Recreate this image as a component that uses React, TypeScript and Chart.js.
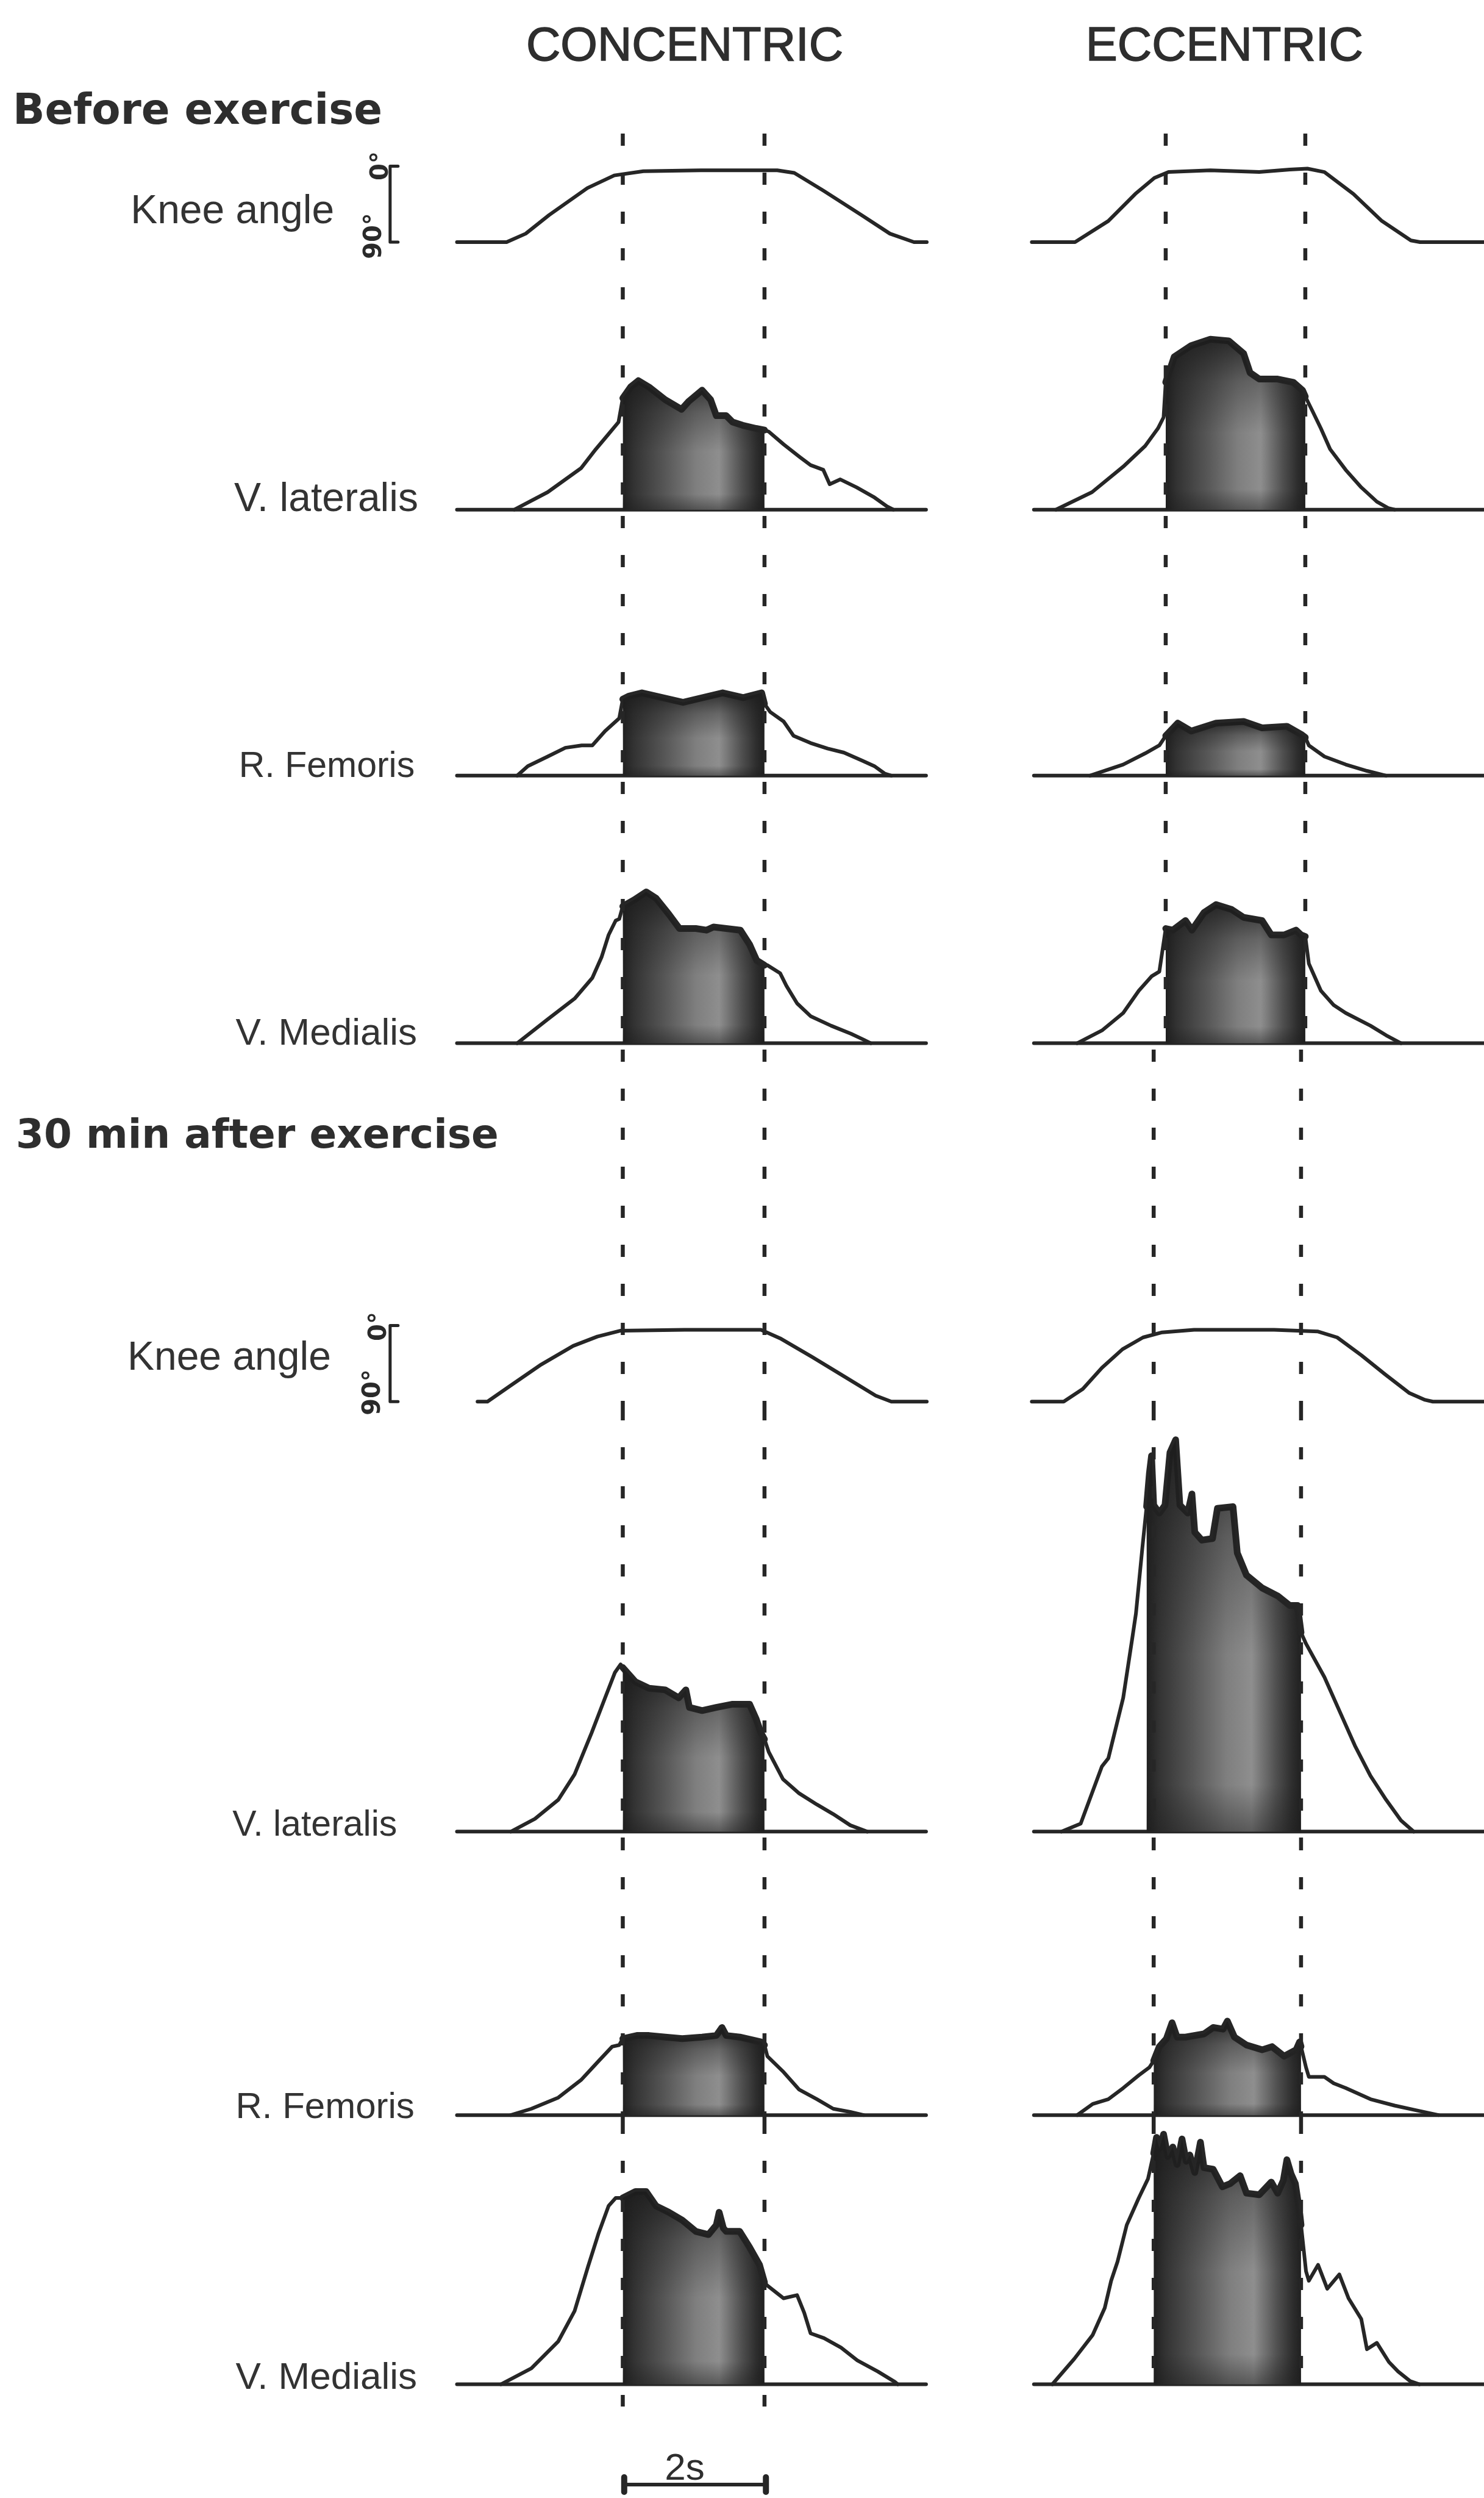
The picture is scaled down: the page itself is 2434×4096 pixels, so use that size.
import React, { useEffect, useRef } from 'react';
import { Chart, registerables } from 'chart.js';

Chart.register(...registerables);

type Pt = [number, number];

// ===================== DATA =====================
// Knee angle (degrees; 90 = start position) against time (s)
const KNEE_CONC_BEFORE: Pt[] = [[0, 90], [0.7, 90], [0.97, 80], [1.3, 58], [1.84, 26], [2.22, 11], [2.63, 6], [3.44, 5], [4.52, 5], [4.76, 8], [5.17, 29], [5.71, 58], [6.11, 80], [6.45, 90], [6.63, 90]];
const KNEE_ECC_BEFORE: Pt[] = [[0, 90], [0.61, 90], [1.08, 65], [1.46, 33], [1.73, 14], [1.93, 7], [2.52, 5], [3.21, 7], [3.64, 4], [3.89, 3], [4.13, 7], [4.54, 33], [4.94, 65], [5.35, 88], [5.48, 90], [6.4, 90]];
const KNEE_CONC_AFTER: Pt[] = [[0.29, 90], [0.43, 90], [0.74, 72], [1.19, 46], [1.64, 24], [1.98, 13], [2.31, 6], [3.21, 5], [4.29, 5], [4.56, 15], [5.01, 37], [5.46, 60], [5.91, 83], [6.13, 90], [6.63, 90]];
const KNEE_ECC_AFTER: Pt[] = [[0, 90], [0.45, 90], [0.72, 75], [0.99, 50], [1.28, 28], [1.57, 14], [1.84, 8], [2.29, 5], [3.42, 5], [4.04, 7], [4.31, 14], [4.65, 35], [4.99, 58], [5.33, 80], [5.55, 88], [5.66, 90], [6.4, 90]];

// Rectified EMG (arbitrary units) against time (s)
const VLAT_CONC_BEFORE: Pt[] = [[0.81, 0], [1.28, 11], [1.75, 26], [1.96, 38], [2.13, 47], [2.28, 55], [2.34, 70], [2.45, 77], [2.56, 81], [2.71, 77], [2.94, 69], [3.17, 63], [3.27, 68], [3.46, 75], [3.58, 69], [3.66, 59], [3.8, 59], [3.89, 55], [4.03, 53], [4.22, 51], [4.34, 50], [4.4, 49], [4.61, 41], [4.84, 33], [4.99, 28], [5.17, 25], [5.26, 16], [5.41, 19], [5.64, 14], [5.88, 8], [6.07, 2], [6.16, 0]];
const VLAT_ECC_BEFORE: Pt[] = [[0.34, 0], [0.85, 11], [1.29, 27], [1.6, 40], [1.78, 51], [1.86, 58], [1.89, 80], [2.01, 96], [2.25, 103], [2.52, 107], [2.78, 106], [2.99, 98], [3.08, 86], [3.21, 82], [3.47, 82], [3.69, 80], [3.82, 75], [3.86, 71], [3.96, 62], [4.08, 51], [4.21, 38], [4.43, 25], [4.65, 14], [4.87, 5], [5.03, 1], [5.12, 0]];
const RFEM_CONC_BEFORE: Pt[] = [[0.85, 0], [1.0, 6], [1.28, 12], [1.53, 17.5], [1.76, 19], [1.91, 19], [2.09, 28], [2.29, 36], [2.34, 48], [2.43, 50], [2.61, 52], [2.9, 49], [3.19, 46], [3.47, 49], [3.75, 52], [4.04, 49], [4.3, 52], [4.34, 45], [4.42, 40], [4.61, 34], [4.75, 25], [4.99, 20.5], [5.23, 17], [5.46, 14.5], [5.71, 9.6], [5.89, 6], [6.04, 1.2], [6.13, 0]];
const RFEM_ECC_BEFORE: Pt[] = [[0.82, 0], [1.29, 7], [1.6, 14], [1.8, 19], [1.89, 25], [2.06, 33], [2.25, 28], [2.6, 33], [2.99, 34], [3.25, 30], [3.6, 31], [3.8, 26], [3.86, 24], [3.91, 19], [4.13, 12], [4.43, 7], [4.73, 3], [5.0, 0]];
const VMED_CONC_BEFORE: Pt[] = [[0.85, 0], [1.28, 15], [1.66, 28], [1.91, 41], [2.04, 54], [2.14, 68], [2.24, 77], [2.29, 78], [2.34, 86], [2.5, 90], [2.67, 95], [2.81, 91], [2.99, 81], [3.14, 72], [3.37, 72], [3.52, 71], [3.62, 73], [4.0, 71], [4.13, 62], [4.23, 52], [4.34, 49], [4.38, 49], [4.56, 44], [4.65, 36], [4.8, 25], [4.99, 17], [5.28, 11], [5.56, 6], [5.75, 2], [5.84, 0]];
const VMED_ECC_BEFORE: Pt[] = [[0.64, 0], [0.99, 8], [1.29, 19], [1.51, 33], [1.69, 42], [1.8, 45], [1.89, 72], [1.99, 71], [2.17, 77], [2.26, 71], [2.43, 82], [2.6, 87], [2.82, 84], [2.99, 79], [3.25, 77], [3.38, 68], [3.56, 68], [3.73, 71], [3.8, 68], [3.86, 67], [3.91, 50], [4.08, 33], [4.26, 24], [4.43, 19], [4.78, 11], [5.0, 5], [5.21, 0]];
const VLAT_CONC_AFTER: Pt[] = [[0.76, 0], [1.1, 8], [1.43, 20], [1.66, 36], [1.9, 62], [2.09, 84], [2.23, 100], [2.31, 105], [2.34, 103], [2.52, 94], [2.71, 90], [2.94, 89], [3.13, 84], [3.23, 89], [3.28, 78], [3.46, 76], [3.66, 78], [3.89, 80], [4.13, 80], [4.22, 71], [4.29, 62], [4.34, 58], [4.4, 50], [4.6, 33], [4.83, 24], [5.08, 17], [5.31, 11], [5.55, 4], [5.79, 0]];
const VLAT_ECC_AFTER: Pt[] = [[0.42, 0], [0.69, 5], [0.99, 41], [1.08, 46], [1.29, 84], [1.42, 122], [1.47, 137], [1.56, 178], [1.62, 204], [1.66, 225], [1.69, 236], [1.72, 205], [1.8, 200], [1.88, 205], [1.95, 238], [2.03, 246], [2.09, 205], [2.2, 200], [2.26, 212], [2.3, 188], [2.4, 183], [2.55, 184], [2.62, 203], [2.84, 204], [2.9, 175], [3.03, 161], [3.25, 153], [3.47, 148], [3.64, 142], [3.75, 142], [3.8, 125], [3.87, 118], [4.13, 97], [4.34, 76], [4.56, 54], [4.78, 35], [5.0, 20], [5.21, 7], [5.39, 0]];
const RFEM_CONC_AFTER: Pt[] = [[0.76, 0], [1.05, 4], [1.43, 11], [1.75, 22], [2.0, 34], [2.19, 43], [2.29, 44], [2.34, 48], [2.54, 50], [2.71, 50], [2.94, 49], [3.18, 48], [3.46, 49], [3.66, 50], [3.74, 55], [3.8, 50], [3.99, 49], [4.29, 46], [4.34, 44], [4.38, 37], [4.61, 27], [4.83, 16], [5.08, 10], [5.31, 4], [5.55, 2], [5.74, 0]];
const RFEM_ECC_AFTER: Pt[] = [[0.64, 0], [0.86, 7], [1.08, 10], [1.29, 17], [1.51, 25], [1.66, 30], [1.72, 34], [1.8, 43], [1.9, 48], [1.98, 58], [2.05, 49], [2.17, 49], [2.43, 51], [2.56, 55], [2.7, 54], [2.76, 59], [2.86, 49], [3.03, 44], [3.25, 41], [3.39, 43], [3.56, 37], [3.73, 41], [3.78, 46], [3.8, 43], [3.87, 30], [3.91, 24], [4.13, 24], [4.26, 20], [4.43, 17], [4.78, 10], [5.12, 6], [5.43, 3], [5.74, 0]];
const VMED_CONC_AFTER: Pt[] = [[0.62, 0], [1.05, 10], [1.43, 27], [1.66, 46], [1.85, 74], [2.0, 95], [2.14, 112], [2.24, 117], [2.34, 117], [2.52, 121], [2.67, 121], [2.81, 112], [2.99, 108], [3.18, 103], [3.37, 96], [3.55, 94], [3.66, 100], [3.7, 108], [3.76, 98], [3.8, 96], [3.99, 96], [4.13, 86], [4.27, 75], [4.34, 64], [4.38, 62], [4.61, 54], [4.8, 56], [4.9, 45], [4.99, 32], [5.18, 29], [5.42, 23], [5.65, 15], [5.94, 8], [6.18, 1.5], [6.22, 0]];
const VMED_ECC_AFTER: Pt[] = [[0.29, 0], [0.6, 16], [0.86, 31], [1.03, 48], [1.12, 65], [1.21, 77], [1.34, 100], [1.51, 117], [1.64, 129], [1.72, 145], [1.76, 155], [1.8, 148], [1.86, 157], [1.92, 143], [1.99, 149], [2.05, 138], [2.12, 154], [2.18, 140], [2.23, 144], [2.3, 133], [2.38, 152], [2.43, 136], [2.56, 135], [2.69, 124], [2.8, 126], [2.94, 131], [3.03, 120], [3.21, 119], [3.38, 127], [3.47, 120], [3.55, 128], [3.6, 141], [3.66, 132], [3.72, 126], [3.78, 108], [3.8, 100], [3.87, 71], [3.91, 65], [4.04, 75], [4.17, 60], [4.34, 69], [4.47, 54], [4.65, 41], [4.73, 22], [4.87, 26], [5.04, 14], [5.17, 8], [5.34, 2], [5.47, 0]];

// Event markers (s): start / end of the loaded phase
const CONC_MARKS: number[] = [2.34, 4.34];
const ECC_MARKS_BEFORE: number[] = [1.89, 3.86];
const ECC_MARKS_AFTER: number[] = [1.72, 3.8];

// Shaded (loaded) interval of each EMG trace (s)
const CONC_BLOCK: Pt = [2.34, 4.34];
const ECC_BLOCK_BEFORE: Pt = [1.89, 3.86];
const ECC_BLOCK_AFTER: Pt = [1.72, 3.8];
const VLAT_ECC_AFTER_BLOCK: Pt = [1.62, 3.8];

// Recording spans (s)
const CONC_SPAN: Pt = [0, 6.62];
const ECC_SPAN: Pt = [0.03, 6.4];

// Knee angle bracket (degrees) and time scale bar (s)
const KNEE_RANGE: Pt = [0, 90];
const SCALE_BAR_START = 2.36;
const SCALE_BAR_SECONDS = 2;

// Text
const COLUMN_TITLES = ['CONCENTRIC', 'ECCENTRIC'];
const SECTION_TITLES = ['Before exercise', '30 min after exercise'];
const ROW_LABELS = ['Knee angle', 'V. lateralis', 'R. Femoris', 'V. Medialis', 'Knee angle', 'V. lateralis', 'R. Femoris', 'V. Medialis'];
const DEG_LABELS = ['0°', '90°'];
const SCALE_BAR_LABEL = '2s';

// ===================== LAYOUT (reference units, scaled by S) =====================
const W = 2434;
const H = 4096;
const S = W / 932;
const ROW_BASE = [152, 320, 487, 655, 880, 1150, 1328, 1497];
const TOP0 = 84;
const GAP = 4;
const CONC_LEFT = 236, CONC_RIGHT = 600, CONC_ORIGIN = 287;
const ECC_LEFT = 640, ECC_RIGHT = 932, ECC_ORIGIN = 648;
const PPS = 44.5; // reference px per second
const KNEE_PX_PER_DEG = 0.53;
const BRACKET_X = 245;
const SCALE_BAR_LEVEL = -63;
const SCALE_BAR_BOTTOM = 1575;

const INK = '#262626';
const LINE_W = 6;
const DASH_W = 6.5;
const DASH_PATTERN = [20, 44];

const SANS = '"Liberation Sans", Arial, sans-serif';
const BOLD = '"DejaVu Sans", "Liberation Sans", sans-serif';

type Kind = 'knee' | 'emg';
interface PanelSpec {
  key: string;
  col: 'conc' | 'ecc';
  row: number;
  kind: Kind;
  trace: Pt[];
  block?: Pt;
  marks: number[];
  span: Pt;
  bracket?: boolean;
  scaleBar?: boolean;
}

const PANELS: PanelSpec[] = [
  { key: 'c0', col: 'conc', row: 0, kind: 'knee', trace: KNEE_CONC_BEFORE, marks: CONC_MARKS, span: CONC_SPAN, bracket: true },
  { key: 'e0', col: 'ecc', row: 0, kind: 'knee', trace: KNEE_ECC_BEFORE, marks: ECC_MARKS_BEFORE, span: ECC_SPAN },
  { key: 'c1', col: 'conc', row: 1, kind: 'emg', trace: VLAT_CONC_BEFORE, block: CONC_BLOCK, marks: CONC_MARKS, span: CONC_SPAN },
  { key: 'e1', col: 'ecc', row: 1, kind: 'emg', trace: VLAT_ECC_BEFORE, block: ECC_BLOCK_BEFORE, marks: ECC_MARKS_BEFORE, span: ECC_SPAN },
  { key: 'c2', col: 'conc', row: 2, kind: 'emg', trace: RFEM_CONC_BEFORE, block: CONC_BLOCK, marks: CONC_MARKS, span: CONC_SPAN },
  { key: 'e2', col: 'ecc', row: 2, kind: 'emg', trace: RFEM_ECC_BEFORE, block: ECC_BLOCK_BEFORE, marks: ECC_MARKS_BEFORE, span: ECC_SPAN },
  { key: 'c3', col: 'conc', row: 3, kind: 'emg', trace: VMED_CONC_BEFORE, block: CONC_BLOCK, marks: CONC_MARKS, span: CONC_SPAN },
  { key: 'e3', col: 'ecc', row: 3, kind: 'emg', trace: VMED_ECC_BEFORE, block: ECC_BLOCK_BEFORE, marks: ECC_MARKS_BEFORE, span: ECC_SPAN },
  { key: 'c4', col: 'conc', row: 4, kind: 'knee', trace: KNEE_CONC_AFTER, marks: CONC_MARKS, span: CONC_SPAN, bracket: true },
  { key: 'e4', col: 'ecc', row: 4, kind: 'knee', trace: KNEE_ECC_AFTER, marks: ECC_MARKS_AFTER, span: ECC_SPAN },
  { key: 'c5', col: 'conc', row: 5, kind: 'emg', trace: VLAT_CONC_AFTER, block: CONC_BLOCK, marks: CONC_MARKS, span: CONC_SPAN },
  { key: 'e5', col: 'ecc', row: 5, kind: 'emg', trace: VLAT_ECC_AFTER, block: VLAT_ECC_AFTER_BLOCK, marks: ECC_MARKS_AFTER, span: ECC_SPAN },
  { key: 'c6', col: 'conc', row: 6, kind: 'emg', trace: RFEM_CONC_AFTER, block: CONC_BLOCK, marks: CONC_MARKS, span: CONC_SPAN },
  { key: 'e6', col: 'ecc', row: 6, kind: 'emg', trace: RFEM_ECC_AFTER, block: ECC_BLOCK_AFTER, marks: ECC_MARKS_AFTER, span: ECC_SPAN },
  { key: 'c7', col: 'conc', row: 7, kind: 'emg', trace: VMED_CONC_AFTER, block: CONC_BLOCK, marks: CONC_MARKS, span: CONC_SPAN, scaleBar: true },
  { key: 'e7', col: 'ecc', row: 7, kind: 'emg', trace: VMED_ECC_AFTER, block: ECC_BLOCK_AFTER, marks: ECC_MARKS_AFTER, span: ECC_SPAN },
];

interface Geom { left: number; top: number; w: number; h: number; baselinePx: number; xMin: number; xMax: number; }

function geom(p: PanelSpec): Geom {
  const leftS = p.col === 'conc' ? CONC_LEFT : ECC_LEFT;
  const rightS = p.col === 'conc' ? CONC_RIGHT : ECC_RIGHT;
  const origin = p.col === 'conc' ? CONC_ORIGIN : ECC_ORIGIN;
  const topS = p.row === 0 ? TOP0 : ROW_BASE[p.row - 1] + GAP;
  const bottomS = p.scaleBar ? SCALE_BAR_BOTTOM : ROW_BASE[p.row] + GAP;
  const left = Math.round(leftS * S);
  const right = Math.min(W, Math.round(rightS * S));
  const top = Math.round(topS * S);
  const bottom = Math.round(bottomS * S);
  return {
    left, top, w: right - left, h: bottom - top,
    baselinePx: ROW_BASE[p.row] * S - top,
    xMin: (left / S - origin) / PPS,
    xMax: (right / S - origin) / PPS,
  };
}

function valueAt(tr: Pt[], t: number): number {
  for (let i = 0; i < tr.length - 1; i++) {
    const [t0, v0] = tr[i];
    const [t1, v1] = tr[i + 1];
    if (t >= t0 && t <= t1) return t1 === t0 ? v1 : v0 + ((v1 - v0) * (t - t0)) / (t1 - t0);
  }
  return 0;
}

function blockPoints(tr: Pt[], b: Pt) {
  const out: { x: number; y: number }[] = [{ x: b[0], y: valueAt(tr, b[0]) }];
  for (const [t, v] of tr) if (t > b[0] && t < b[1]) out.push({ x: t, y: v });
  out.push({ x: b[1], y: valueAt(tr, b[1]) });
  return out;
}

function decorPlugin(p: PanelSpec, g: Geom) {
  return {
    id: 'decor_' + p.key,
    afterDatasetsDraw(chart: any) {
      const ctx: CanvasRenderingContext2D = chart.ctx;
      const x = chart.scales.x;
      const y = chart.scales.y;
      ctx.save();
      // darker band along the top of the shaded block
      if (p.block) {
        const pts = blockPoints(p.trace, p.block);
        const y0 = y.getPixelForValue(0);
        let minY = y0;
        ctx.beginPath();
        ctx.moveTo(x.getPixelForValue(pts[0].x), y0);
        for (const q of pts) {
          const py = y.getPixelForValue(q.y);
          minY = Math.min(minY, py);
          ctx.lineTo(x.getPixelForValue(q.x), py);
        }
        ctx.lineTo(x.getPixelForValue(pts[pts.length - 1].x), y0);
        ctx.closePath();
        ctx.save();
        ctx.clip();
        const hgt = y0 - minY;
        const gr = ctx.createLinearGradient(0, minY, 0, minY + hgt * 0.55);
        gr.addColorStop(0, 'rgba(28,28,28,0.85)');
        gr.addColorStop(0.45, 'rgba(28,28,28,0.35)');
        gr.addColorStop(1, 'rgba(28,28,28,0)');
        ctx.fillStyle = gr;
        ctx.fillRect(0, minY - 2, g.w, hgt + 4);
        const gb = ctx.createLinearGradient(0, y0 - hgt * 0.12, 0, y0);
        gb.addColorStop(0, 'rgba(28,28,28,0)');
        gb.addColorStop(1, 'rgba(28,28,28,0.45)');
        ctx.fillStyle = gb;
        ctx.fillRect(0, y0 - hgt * 0.12, g.w, hgt * 0.12 + 2);
        ctx.restore();
      }
      ctx.strokeStyle = INK;
      ctx.lineWidth = DASH_W;
      ctx.setLineDash(DASH_PATTERN);
      const bottom = p.scaleBar ? g.baselinePx + 14 * S : g.h;
      for (const t of p.marks) {
        const px = x.getPixelForValue(t);
        ctx.beginPath();
        ctx.moveTo(px, 0);
        ctx.lineTo(px, bottom);
        ctx.stroke();
      }
      ctx.setLineDash([]);
      ctx.lineCap = 'round';
      ctx.lineJoin = 'round';
      if (p.bracket) {
        const bx = BRACKET_X * S - g.left;
        const y0 = y.getPixelForValue(KNEE_RANGE[0]);
        const y1 = y.getPixelForValue(KNEE_RANGE[1]);
        ctx.lineWidth = 5;
        ctx.beginPath();
        ctx.moveTo(bx + 13, y0);
        ctx.lineTo(bx, y0);
        ctx.lineTo(bx, y1);
        ctx.lineTo(bx + 13, y1);
        ctx.stroke();
      }
      if (p.scaleBar) {
        const x0 = x.getPixelForValue(SCALE_BAR_START);
        const x1 = x.getPixelForValue(SCALE_BAR_START + SCALE_BAR_SECONDS);
        const yb = y.getPixelForValue(SCALE_BAR_LEVEL);
        ctx.lineWidth = 6;
        ctx.beginPath();
        ctx.moveTo(x0, yb);
        ctx.lineTo(x1, yb);
        ctx.stroke();
        ctx.lineWidth = 10;
        for (const xx of [x0, x1]) {
          ctx.beginPath();
          ctx.moveTo(xx, yb - 12);
          ctx.lineTo(xx, yb + 12);
          ctx.stroke();
        }
      }
      ctx.restore();
    },
  };
}

function buildChart(canvas: HTMLCanvasElement, p: PanelSpec): Chart {
  const g = geom(p);
  const datasets: any[] = [];
  const toXY = (tr: Pt[]) => tr.map(([t, v]) => ({ x: t, y: v }));
  let yOpts: any;
  if (p.kind === 'knee') {
    const unit = KNEE_PX_PER_DEG * S;
    yOpts = { type: 'linear', display: false, reverse: true, min: 90 - g.baselinePx / unit, max: 90 + (g.h - g.baselinePx) / unit };
    datasets.push({ data: toXY(p.trace), borderColor: INK, borderWidth: LINE_W, fill: false, clip: false, order: 0 });
  } else {
    yOpts = { type: 'linear', display: false, min: -(g.h - g.baselinePx) / S, max: g.baselinePx / S };
    datasets.push({ data: toXY(p.trace), borderColor: INK, borderWidth: LINE_W, fill: false, clip: false, order: 0 });
    if (p.block) {
      const b = p.block;
      const c2d = canvas.getContext('2d') as CanvasRenderingContext2D;
      const px = (t: number) => ((t - g.xMin) / (g.xMax - g.xMin)) * g.w;
      const gr = c2d.createLinearGradient(px(b[0]), 0, px(b[1]), 0);
      gr.addColorStop(0, '#202020');
      gr.addColorStop(0.08, '#333333');
      gr.addColorStop(0.3, '#575757');
      gr.addColorStop(0.52, '#7f7f7f');
      gr.addColorStop(0.68, '#8e8e8e');
      gr.addColorStop(0.84, '#4f4f4f');
      gr.addColorStop(0.94, '#2e2e2e');
      gr.addColorStop(1, '#202020');
      datasets.push({
        data: blockPoints(p.trace, b),
        fill: 'origin',
        borderColor: '#262626',
        borderWidth: 11,
        clip: false,
        order: 1,
        backgroundColor: gr,
      });
    }
    datasets.push({ data: [{ x: p.span[0], y: 0 }, { x: p.span[1], y: 0 }], borderColor: INK, borderWidth: LINE_W, fill: false, clip: false, order: 2 });
  }
  return new Chart(canvas, {
    type: 'line',
    data: { datasets },
    options: {
      responsive: false,
      maintainAspectRatio: false,
      animation: false,
      devicePixelRatio: 1,
      events: [],
      layout: { padding: 0 },
      parsing: false,
      normalized: true,
      elements: { point: { radius: 0 }, line: { tension: 0, borderCapStyle: 'round', borderJoinStyle: 'round' } },
      plugins: { legend: { display: false }, tooltip: { enabled: false }, title: { display: false } },
      scales: {
        x: { type: 'linear', display: false, min: g.xMin, max: g.xMax },
        y: yOpts,
      },
    } as any,
    plugins: [decorPlugin(p, g)],
  });
}

function Txt(props: { text: string; x: number; base: number; size: number; family: string; weight?: number; align?: 'left' | 'center'; color?: string; stroke?: number }) {
  const { text, x, base, size, family, weight = 400, align = 'left', color = '#2e2e2e', stroke = 0 } = props;
  const top = base * S - 0.846 * size;
  const style: React.CSSProperties = {
    position: 'absolute', top, fontSize: size, lineHeight: `${size}px`, fontFamily: family, fontWeight: weight,
    color, whiteSpace: 'nowrap',
  };
  if (stroke) (style as any).WebkitTextStroke = `${stroke}px ${color}`;
  if (align === 'center') {
    style.left = x * S - 1000;
    style.width = 2000;
    style.textAlign = 'center';
  } else {
    style.left = x * S;
  }
  return <div style={style}>{text}</div>;
}

function Deg(props: { text: string; cx: number; cy: number }) {
  return (
    <div style={{
      position: 'absolute', left: props.cx * S, top: props.cy * S, fontSize: 40, lineHeight: '40px', fontFamily: BOLD,
      fontWeight: 700, color: '#2a2a2a', transform: 'translate(-50%, -50%) rotate(-90deg)', whiteSpace: 'nowrap',
    }}>{props.text}</div>
  );
}

const LABEL_X = [82, 147, 150, 148, 80, 146, 148, 148];
const LABEL_BASE = [140, 321, 488, 656, 860, 1153, 1330, 1500];
const LABEL_SIZE = [66, 66, 59, 62, 66, 59, 60, 62];

export default function App() {
  const refs = useRef<(HTMLCanvasElement | null)[]>([]);
  useEffect(() => {
    const charts: Chart[] = [];
    PANELS.forEach((p, i) => {
      const cv = refs.current[i];
      if (!cv) return;
      try {
        charts.push(buildChart(cv, p));
      } catch (e) {
        console.error(e);
      }
    });
    return () => charts.forEach((c) => c.destroy());
  }, []);
  return (
    <div style={{ position: 'absolute', left: 0, top: 0, width: W, height: H, background: '#fff', overflow: 'hidden' }}>
      {PANELS.map((p, i) => {
        const g = geom(p);
        return (
          <canvas
            key={p.key}
            ref={(el) => { refs.current[i] = el; }}
            width={g.w}
            height={g.h}
            style={{ position: 'absolute', left: g.left, top: g.top, width: g.w, height: g.h }}
          />
        );
      })}
      <Txt text={COLUMN_TITLES[0]} x={430} base={38} size={78} family={SANS} align="center" stroke={1.5} />
      <Txt text={COLUMN_TITLES[1]} x={769} base={38} size={78} family={SANS} align="center" stroke={1.5} />
      <Txt text={SECTION_TITLES[0]} x={8} base={78} size={69} family={BOLD} weight={700} />
      <Txt text={SECTION_TITLES[1]} x={10} base={721} size={66} family={BOLD} weight={700} />
      {ROW_LABELS.map((l, i) => (
        <Txt key={'l' + i} text={l} x={LABEL_X[i]} base={LABEL_BASE[i]} size={LABEL_SIZE[i]} family={SANS} color="#333" />
      ))}
      <Deg text={DEG_LABELS[0]} cx={238} cy={104} />
      <Deg text={DEG_LABELS[1]} cx={234} cy={148} />
      <Deg text={DEG_LABELS[0]} cx={237} cy={833} />
      <Deg text={DEG_LABELS[1]} cx={233} cy={874} />
      <Txt text={SCALE_BAR_LABEL} x={430} base={1557} size={62} family={SANS} align="center" />
    </div>
  );
}
